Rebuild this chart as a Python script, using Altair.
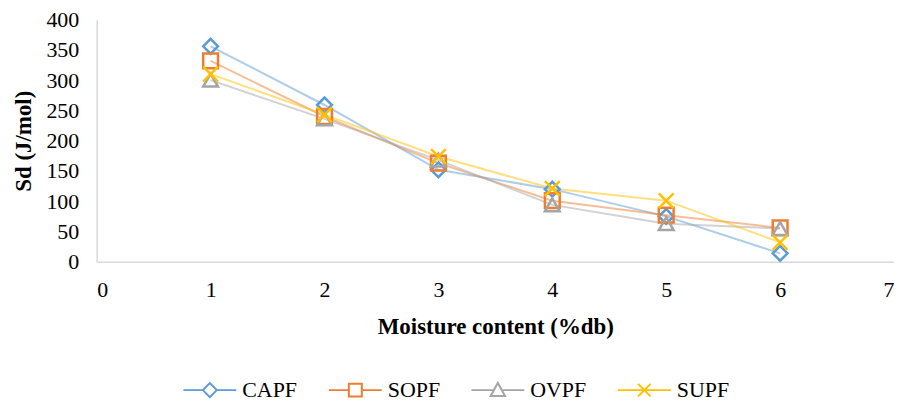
import altair as alt
import pandas as pd

moisture = [1, 2, 3, 4, 5, 6]
series_names = ["CAPF", "SOPF", "OVPF", "SUPF"]
capf = [356, 259, 152, 120, 75, 14]
sopf = [332, 240, 163, 101, 77, 56]
ovpf = [300, 236, 168, 94, 63, 55]
supf = [310, 243, 174, 121, 101, 32]

colors = ["#5B9BD5", "#ED7D31", "#A5A5A5", "#FFC000"]
shapes = ["diamond", "square", "triangle-up", "M-1,-1L1,1M-1,1L1,-1"]
legend_shapes = [
    "M-2.12,0L-0.56,0M0,-0.56L0.56,0L0,0.56L-0.56,0ZM0.56,0L2.12,0",
    "M-2.12,0L-0.52,0M-0.52,-0.52L0.52,-0.52L0.52,0.52L-0.52,0.52ZM0.52,0L2.12,0",
    "M-2.12,0L-0.3,0M0,-0.58L0.58,0.48L-0.58,0.48ZM0.3,0L2.12,0",
    "M-2.12,0L2.12,0M-0.5,-0.5L0.5,0.5M-0.5,0.5L0.5,-0.5",
]

rows = []
for name, vals in zip(series_names, [capf, sopf, ovpf, supf]):
    for x, v in zip(moisture, vals):
        rows.append({"x": x, "y": v, "series": name})
df = pd.DataFrame(rows)

font = "Liberation Serif"

xenc = alt.X("x:Q", scale=alt.Scale(domain=[0, 7]),
             axis=alt.Axis(title="Moisture content (%db)", values=list(range(0, 8)),
                           grid=False, ticks=False, domainColor="#D9D9D9", domainWidth=1.5,
                           labelFont=font, labelFontSize=22, labelColor="#000",
                           titleFont=font, titleFontSize=23, titleFontWeight="bold",
                           titleColor="#000", labelPadding=18, titlePadding=15))
yenc = alt.Y("y:Q", scale=alt.Scale(domain=[0, 400]),
             axis=alt.Axis(title="Sd (J/mol)", values=list(range(0, 401, 50)),
                           grid=False, ticks=False, domainColor="#D9D9D9", domainWidth=1.5,
                           labelFont=font, labelFontSize=22, labelColor="#000",
                           titleFont=font, titleFontSize=23, titleFontWeight="bold",
                           titleColor="#000", labelPadding=18, titlePadding=10))

lines = alt.Chart(df).mark_line(strokeWidth=2, opacity=0.5).encode(
    x=xenc, y=yenc,
    color=alt.Color("series:N", scale=alt.Scale(domain=series_names, range=colors), legend=None),
    detail="series:N")

points = alt.Chart(df).mark_point(filled=False, strokeWidth=2.5, size=220, opacity=1).encode(
    x=xenc, y=yenc,
    color=alt.Color("series:N", scale=alt.Scale(domain=series_names, range=colors), legend=None),
    shape=alt.Shape("series:N", scale=alt.Scale(domain=series_names, range=shapes), legend=None))

leg = alt.Legend(title=None, orient="none", direction="horizontal", columns=4,
                 legendX=100, legendY=358,
                 labelFont=font, labelFontSize=22, labelColor="#000",
                 symbolStrokeWidth=2, symbolSize=625, symbolOpacity=1,
                 symbolFillColor="white", labelOffset=19, columnPadding=27)

legend_layer = alt.Chart(df).mark_point(filled=False, opacity=0, size=625).encode(
    x=xenc, y=yenc,
    color=alt.Color("series:N", scale=alt.Scale(domain=series_names, range=colors), legend=leg),
    shape=alt.Shape("series:N", scale=alt.Scale(domain=series_names, range=legend_shapes), legend=leg))

chart = alt.layer(lines, points, legend_layer).resolve_scale(
    color="independent", shape="independent"
).properties(
    width=800, height=243,
    padding={"left": 5, "top": 0, "right": 0, "bottom": 0}
).configure_view(stroke=None)

chart.save("out.html", embed_options={"renderer": "svg", "actions": False})
